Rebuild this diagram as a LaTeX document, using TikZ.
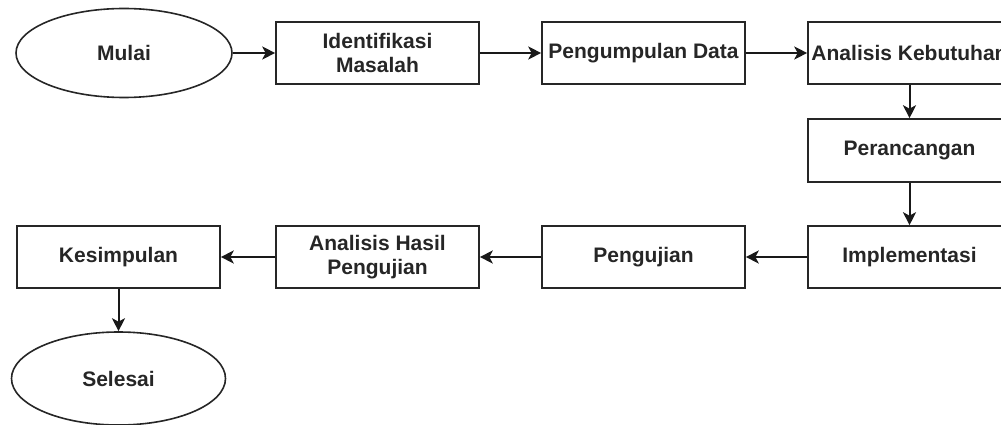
\documentclass[tikz,border=0pt]{standalone}
\usepackage{fontspec}
\setmainfont{Liberation Sans}
\usetikzlibrary{arrows.meta,shapes.geometric}
\begin{document}
\begin{tikzpicture}[x=1pt,y=-1pt,
  stepbox/.style={draw=black!85, line width=1.6pt, rectangle, minimum width=203pt, minimum height=62pt, inner sep=0pt, align=center, text=black!85, font=\fontsize{21}{24.5}\selectfont\bfseries},
  term/.style={draw=black!85, line width=1.6pt, ellipse, inner sep=0pt, text=black!85, font=\fontsize{21}{24.5}\selectfont\bfseries},
  flow/.style={draw=black!90, line width=2pt, -{Stealth[length=13pt,width=13pt,inset=3.5pt]}}]
\useasboundingbox (0,0) rectangle (1001,425);
\clip (0,0) rectangle (1001,425);
\node[term, minimum width=216pt, minimum height=89pt] (mulai) at (124,53) {Mulai};
\node[stepbox] (ident) at (377.5,53) {Identifikasi\\Masalah};
\node[stepbox] (kumpul) at (643.5,53) {Pengumpulan Data};
\node[stepbox] (butuh) at (909.5,53) {Analisis Kebutuhan};
\node[stepbox, minimum height=63pt] (rancang) at (909.5,150.5) {Perancangan};
\node[stepbox] (impl) at (909.5,257) {Implementasi};
\node[stepbox] (uji) at (643.5,257) {Pengujian};
\node[stepbox] (hasil) at (377.5,257) {Analisis Hasil\\Pengujian};
\node[stepbox] (simpul) at (118.5,257) {Kesimpulan};
\node[term, minimum width=214pt, minimum height=93pt] (selesai) at (118.5,378.5) {Selesai};
\draw[flow] (mulai) -- (ident);
\draw[flow] (ident) -- (kumpul);
\draw[flow] (kumpul) -- (butuh);
\draw[flow] (butuh) -- (rancang);
\draw[flow] (rancang) -- (impl);
\draw[flow] (impl) -- (uji);
\draw[flow] (uji) -- (hasil);
\draw[flow] (hasil) -- (simpul);
\draw[flow] (simpul) -- (selesai);
\end{tikzpicture}
\end{document}
